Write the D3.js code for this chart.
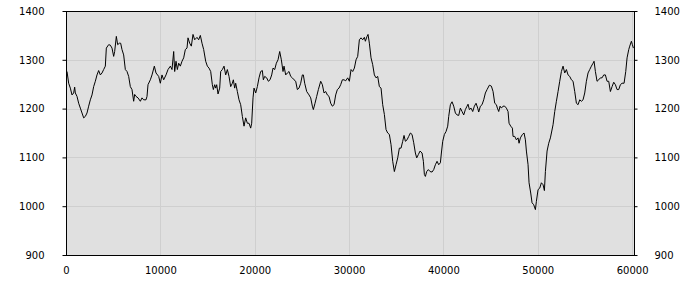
<!DOCTYPE html>
<html>
<head>
<meta charset="utf-8">
<script src="https://cdn.jsdelivr.net/npm/d3@7"></script>
<style>
  body { margin: 0; background: #fff; }
  svg text { font-family: "DejaVu Sans", Verdana, sans-serif; font-size: 10px; fill: #000; }
</style>
</head>
<body>
<svg id="chart" width="700" height="300"></svg>
<script>
// valeurs
let xValeurs = [0, 106, 283, 459, 636, 813, 919, 989, 1166, 1343, 1519, 1696, 1873, 2049, 2226, 2402, 2579, 2756, 2932, 3109,
  3286, 3462, 3639, 3816, 3992, 4169, 4275, 4522, 4699, 4876, 5052, 5158, 5335, 5476, 5653, 5794, 5935, 6112, 6289, 6466,
  6642, 6819, 6995, 7172, 7278, 7419, 7631, 7879, 8055, 8232, 8479, 8585, 8691, 8939, 9115, 9363, 9539, 9822, 9999, 10175,
  10352, 10599, 10811, 11059, 11235, 11412, 11518, 11659, 11801, 11942, 12118, 12295, 12472, 12648, 12825, 12931, 13108, 13284, 13461, 13638,
  13885, 14061, 14238, 14415, 14592, 14805, 14981, 15158, 15335, 15511, 15617, 15759, 15865, 15971, 16112, 16289, 16395, 16571, 16748, 16925,
  17101, 17278, 17454, 17631, 17737, 17878, 17984, 18161, 18338, 18514, 18691, 18868, 19044, 19221, 19398, 19574, 19680, 19822, 19928, 20105,
  20281, 20458, 20634, 20811, 20917, 21058, 21270, 21447, 21624, 21801, 21941, 22118, 22295, 22471, 22648, 22825, 23001, 23107, 23284, 23461,
  23637, 23814, 23990, 24167, 24344, 24520, 24697, 24874, 25050, 25156, 25298, 25510, 25757, 25934, 26110, 26216, 26393, 26570, 26747, 26994,
  27171, 27347, 27524, 27700, 27877, 28054, 28230, 28407, 28584, 28760, 28937, 29113, 29290, 29467, 29643, 29857, 30033, 30210, 30387, 30563,
  30740, 30916, 31093, 31270, 31446, 31623, 31729, 31906, 32012, 32153, 32330, 32506, 32683, 32860, 33036, 33213, 33390, 33566, 33743, 33920,
  34096, 34273, 34450, 34626, 34803, 34980, 35156, 35333, 35510, 35686, 35828, 35969, 36146, 36322, 36499, 36676, 36852, 37029, 37170, 37347,
  37524, 37736, 37877, 37983, 38089, 38230, 38407, 38584, 38796, 38972, 39149, 39326, 39502, 39679, 39785, 39926, 40103, 40279, 40456, 40562,
  40739, 40916, 41092, 41269, 41446, 41622, 41799, 41976, 42152, 42329, 42505, 42611, 42753, 42930, 43106, 43283, 43460, 43636, 43742, 43919,
  44095, 44272, 44449, 44625, 44873, 45085, 45262, 45439, 45615, 45721, 45863, 46004, 46145, 46322, 46499, 46675, 46852, 46958, 47134, 47311,
  47382, 47558, 47735, 47912, 48018, 48159, 48371, 48548, 48689, 48795, 48972, 49078, 49254, 49396, 49573, 49749, 49855, 50032, 50209, 50385,
  50562, 50703, 50809, 50986, 51162, 51339, 51445, 51621, 51798, 51975, 52151, 52328, 52505, 52681, 52858, 53035, 53211, 53388, 53565, 53741,
  53918, 54095, 54271, 54448, 54625, 54801, 54978, 55154, 55331, 55508, 55684, 55861, 55967, 56108, 56285, 56462, 56638, 56815, 56992, 57168,
  57345, 57522, 57698, 57875, 58052, 58228, 58405, 58581, 58758, 58935, 59147, 59324, 59465, 59642, 59748, 59925, 60031, 60137];

let yValeurs = [1278, 1276, 1252, 1242, 1228, 1232, 1244, 1232, 1225, 1211, 1201, 1191, 1181, 1184, 1191, 1205, 1218, 1228, 1245, 1256,
  1269, 1278, 1269, 1273, 1280, 1287, 1324, 1331, 1330, 1324, 1307, 1317, 1348, 1331, 1334, 1334, 1321, 1310, 1280, 1276,
  1266, 1245, 1239, 1215, 1229, 1225, 1222, 1215, 1222, 1218, 1218, 1225, 1249, 1259, 1269, 1287, 1273, 1266, 1252, 1269,
  1259, 1269, 1280, 1287, 1280, 1317, 1276, 1297, 1280, 1293, 1287, 1297, 1304, 1321, 1324, 1345, 1334, 1328, 1352, 1341,
  1346, 1341, 1350, 1334, 1321, 1297, 1287, 1283, 1276, 1249, 1239, 1249, 1242, 1249, 1230, 1242, 1276, 1280, 1287, 1269,
  1280, 1266, 1245, 1252, 1259, 1242, 1252, 1235, 1218, 1208, 1184, 1164, 1181, 1170, 1170, 1160, 1170, 1222, 1242, 1232,
  1245, 1263, 1276, 1278, 1259, 1266, 1263, 1256, 1259, 1269, 1283, 1280, 1293, 1300, 1317, 1300, 1276, 1287, 1269, 1273,
  1276, 1266, 1263, 1259, 1256, 1239, 1242, 1252, 1269, 1269, 1252, 1235, 1228, 1222, 1205, 1198, 1211, 1225, 1239, 1256,
  1249, 1232, 1235, 1228, 1225, 1211, 1205, 1208, 1228, 1239, 1242, 1249, 1259, 1259, 1257, 1263, 1256, 1280, 1276, 1283,
  1300, 1307, 1341, 1345, 1341, 1346, 1338, 1348, 1352, 1334, 1304, 1290, 1269, 1263, 1266, 1245, 1242, 1208, 1188, 1157,
  1150, 1147, 1126, 1092, 1071, 1085, 1099, 1119, 1119, 1133, 1145, 1133, 1136, 1143, 1150, 1147, 1130, 1109, 1099, 1106,
  1113, 1109, 1092, 1065, 1061, 1071, 1075, 1071, 1070, 1075, 1085, 1092, 1085, 1089, 1109, 1133, 1147, 1153, 1164, 1184,
  1208, 1214, 1205, 1191, 1187, 1186, 1201, 1194, 1187, 1198, 1205, 1209, 1198, 1201, 1194, 1205, 1211, 1201, 1193, 1205,
  1208, 1218, 1232, 1239, 1248, 1246, 1235, 1211, 1208, 1201, 1194, 1205, 1201, 1205, 1205, 1201, 1194, 1170, 1164, 1160,
  1143, 1143, 1136, 1140, 1129, 1140, 1147, 1150, 1136, 1113, 1085, 1048, 1027, 1007, 1003, 993, 1010, 1034, 1037, 1048,
  1044, 1032, 1071, 1113, 1129, 1140, 1150, 1167, 1194, 1215, 1235, 1256, 1276, 1287, 1273, 1280, 1269, 1266, 1259, 1256,
  1235, 1211, 1208, 1218, 1215, 1218, 1232, 1256, 1273, 1280, 1287, 1293, 1297, 1276, 1256, 1259, 1263, 1263, 1269, 1269,
  1256, 1256, 1235, 1245, 1254, 1249, 1239, 1239, 1249, 1252, 1252, 1276, 1304, 1321, 1328, 1338, 1331, 1324];

let graduationsY = [900, 1000, 1100, 1200, 1300, 1400];
let graduationsX = [0, 10000, 20000, 30000, 40000, 50000, 60000];

let points = xValeurs.map((x, i) => ({ x: x, y: yValeurs[i] }));

let gauche = 66, droite = 634, haut = 11, bas = 255;

let x = d3.scaleLinear().domain([0, 60200]).range([gauche, droite]);
let y = d3.scaleLinear().domain([900, 1400]).range([bas, haut]);

let svg = d3.select("#chart");

// fond de la zone du graphique
svg.append("rect")
  .attr("x", gauche)
  .attr("y", haut)
  .attr("width", droite - gauche)
  .attr("height", bas - haut)
  .attr("fill", "#e0e0e0");

// grille
svg.append("g")
  .selectAll("line")
  .data(graduationsY)
  .join("line")
  .attr("x1", gauche)
  .attr("x2", droite)
  .attr("y1", d => Math.round(y(d)) + 0.5)
  .attr("y2", d => Math.round(y(d)) + 0.5)
  .attr("stroke", "#cfcfcf");

svg.append("g")
  .selectAll("line")
  .data(graduationsX)
  .join("line")
  .attr("x1", d => Math.round(x(d)) + 0.5)
  .attr("x2", d => Math.round(x(d)) + 0.5)
  .attr("y1", haut)
  .attr("y2", bas)
  .attr("stroke", "#cfcfcf");

// la courbe
let ligne = d3.line().x(d => x(d.x)).y(d => y(d.y));

svg.append("path")
  .datum(points)
  .attr("d", ligne)
  .attr("fill", "none")
  .attr("stroke", "#000")
  .attr("stroke-width", 1);

// cadre
svg.append("rect")
  .attr("x", gauche + 0.5)
  .attr("y", haut + 0.5)
  .attr("width", droite - gauche)
  .attr("height", bas - haut)
  .attr("fill", "none")
  .attr("stroke", "#000");

// axes
let axeGauche = d3.axisLeft(y).tickValues(graduationsY).tickSize(4).tickPadding(18).tickFormat(d3.format("d"));
let axeDroit = d3.axisRight(y).tickValues(graduationsY).tickSize(3).tickPadding(17).tickFormat(d3.format("d"));
let axeBas = d3.axisBottom(x).tickValues(graduationsX).tickSize(0).tickPadding(12).tickFormat(d3.format("d"));

function styliser(g) {
  g.select(".domain").remove();
  g.selectAll("text").attr("font-family", null).attr("font-size", null);
}

svg.append("g").attr("transform", `translate(${gauche + 0.5},0)`).call(axeGauche).call(styliser);
svg.append("g").attr("transform", `translate(${droite + 0.5},0)`).call(axeDroit).call(styliser);
svg.append("g").attr("transform", `translate(0,${bas})`).call(axeBas).call(styliser);
</script>
</body>
</html>
